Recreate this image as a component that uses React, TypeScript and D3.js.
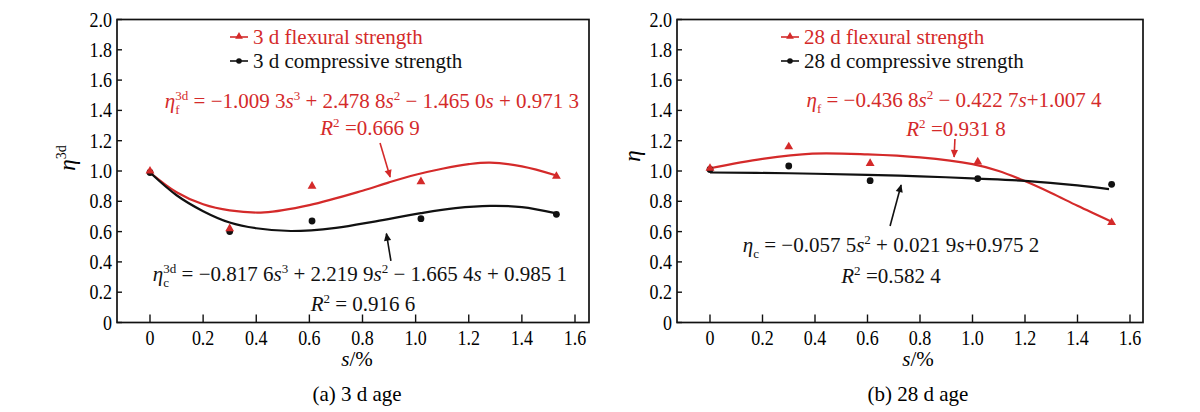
import React from 'react';
import * as d3 from 'd3';

// ---------------- data ----------------
const sLevels = [0, 0.3, 0.61, 1.02, 1.53];
const flex3d = [1.0, 0.62, 0.9, 0.93, 0.965];
const comp3d = [0.99, 0.6, 0.67, 0.685, 0.714];
const flex28d = [1.018, 1.16, 1.05, 1.06, 0.66];
const comp28d = [1.01, 1.033, 0.936, 0.95, 0.912];

// fitted trend curves
const fit3dFlexS = [0, 0.1, 0.2, 0.3, 0.43, 0.6, 0.8, 0.9, 1.0, 1.1, 1.2, 1.28, 1.4, 1.53];
const fit3dFlexEta = [0.99, 0.86, 0.78, 0.74, 0.727, 0.775, 0.87, 0.925, 0.975, 1.015, 1.045, 1.055, 1.03, 0.97];
const fit3dCompS = [0, 0.1, 0.2, 0.3, 0.4, 0.53, 0.7, 0.85, 1.02, 1.15, 1.28, 1.4, 1.53];
const fit3dCompEta = [0.99, 0.84, 0.735, 0.66, 0.622, 0.604, 0.625, 0.668, 0.722, 0.755, 0.77, 0.762, 0.72];
const fit28FlexS = [0, 0.2, 0.39, 0.6, 0.8, 1.0, 1.1, 1.19, 1.3, 1.4, 1.53];
const fit28FlexEta = [1.018, 1.08, 1.115, 1.11, 1.09, 1.045, 1.0, 0.94, 0.855, 0.77, 0.665];
const fit28CompS = [0, 0.3, 0.6, 0.8, 1.02, 1.2, 1.4, 1.52];
const fit28CompEta = [0.99, 0.985, 0.974, 0.965, 0.95, 0.935, 0.905, 0.88];

const xTicks = [0, 0.2, 0.4, 0.6, 0.8, 1.0, 1.2, 1.4, 1.6];
const xTickLabels = ['0', '0.2', '0.4', '0.6', '0.8', '1.0', '1.2', '1.4', '1.6'];
const yTicks = [0, 0.2, 0.4, 0.6, 0.8, 1.0, 1.2, 1.4, 1.6, 1.8, 2.0];
const yTickLabels = ['0', '0.2', '0.4', '0.6', '0.8', '1.0', '1.2', '1.4', '1.6', '1.8', '2.0'];

// arrows in data space: [s0, eta0, s1, eta1]
const arrows3d = { flex: [0.866, 1.185, 0.904, 0.96], comp: [0.907, 0.406, 0.89, 0.587] };
const arrows28 = { flex: [0.933, 1.211, 0.93, 1.092], comp: [0.686, 0.637, 0.728, 0.908] };

type Seg = { t?: string; i?: boolean; sup?: string; sub?: string; ss?: [string, string] };

const eq3dFlex: Seg[] = [
  { t: 'η', i: true }, { ss: ['3d', 'f'] }, { t: ' = −1.009 3' }, { t: 's', i: true }, { sup: '3' },
  { t: ' + 2.478 8' }, { t: 's', i: true }, { sup: '2' }, { t: ' − 1.465 0' }, { t: 's', i: true }, { t: ' + 0.971 3' },
];
const r2_3dFlex: Seg[] = [{ t: 'R', i: true }, { sup: '2' }, { t: ' =0.666 9' }];
const eq3dComp: Seg[] = [
  { t: 'η', i: true }, { ss: ['3d', 'c'] }, { t: ' = −0.817 6' }, { t: 's', i: true }, { sup: '3' },
  { t: ' + 2.219 9' }, { t: 's', i: true }, { sup: '2' }, { t: ' − 1.665 4' }, { t: 's', i: true }, { t: ' + 0.985 1' },
];
const r2_3dComp: Seg[] = [{ t: 'R', i: true }, { sup: '2' }, { t: ' = 0.916 6' }];
const eq28Flex: Seg[] = [
  { t: 'η', i: true }, { sub: 'f' }, { t: ' = −0.436 8' }, { t: 's', i: true }, { sup: '2' },
  { t: ' − 0.422 7' }, { t: 's', i: true }, { t: '+1.007 4' },
];
const r2_28Flex: Seg[] = [{ t: 'R', i: true }, { sup: '2' }, { t: ' =0.931 8' }];
const eq28Comp: Seg[] = [
  { t: 'η', i: true }, { sub: 'c' }, { t: ' = −0.057 5' }, { t: 's', i: true }, { sup: '2' },
  { t: ' + 0.021 9' }, { t: 's', i: true }, { t: '+0.975 2' },
];
const r2_28Comp: Seg[] = [{ t: 'R', i: true }, { sup: '2' }, { t: ' =0.582 4' }];

// ---------------- style ----------------
const RED = '#d42a2a';
const FONT = 'Liberation Serif, DejaVu Serif, serif';
const W = 1200;
const H = 412;

const charW: Record<string, number> = { f: 0.333, c: 0.444 };

function Rich({ segs, size }: { segs: Seg[]; size: number }) {
  const small = size * 0.62;
  const up = -size * 0.4;
  const down = size * 0.27;
  let cur = 0;
  const mv = (t: number) => {
    const d = t - cur;
    cur = t;
    return d;
  };
  const out: any[] = [];
  segs.forEach((s, k) => {
    if (s.t !== undefined) {
      out.push(
        <tspan key={k} dy={mv(0)} fontStyle={s.i ? 'italic' : 'normal'} fontSize={size}>
          {s.t}
        </tspan>
      );
    } else if (s.sup !== undefined) {
      out.push(<tspan key={k} dy={mv(up)} fontSize={small}>{s.sup}</tspan>);
    } else if (s.sub !== undefined) {
      out.push(<tspan key={k} dy={mv(down)} fontSize={small}>{s.sub}</tspan>);
    } else if (s.ss) {
      const wsub = s.ss[1].split('').reduce((a, c) => a + (charW[c] || 0.5), 0) * small;
      out.push(<tspan key={k + 'b'} dy={mv(down)} fontSize={small}>{s.ss[1]}</tspan>);
      out.push(<tspan key={k + 'p'} dx={-wsub} dy={mv(up)} fontSize={small}>{s.ss[0]}</tspan>);
    }
  });
  return <>{out}</>;
}

type PanelProps = {
  x0: number; x16: number; left: number; right: number;
  flex: number[]; comp: number[];
  fitFlex: [number[], number[]]; fitComp: [number[], number[]];
  arrows: { flex: number[]; comp: number[] };
  legend: [string, string]; legendX: number;
  eqFlex: Seg[]; r2Flex: Seg[]; eqComp: Seg[]; r2Comp: Seg[];
  eqPos: { fx: number; fy: number; rfx: number; rfy: number; cx: number; cy: number; rcx: number; rcy: number };
  yLabelX: number; yLabelY: number; yLabelSup: string;
  titleX: number; caption: string;
};

const top = 19.5;
const bottom = 322.5;

function Panel(p: PanelProps) {
  const x = d3.scaleLinear().domain([0, 1.6]).range([p.x0, p.x16]);
  const y = d3.scaleLinear().domain([0, 2]).range([bottom, top]);
  const line = d3
    .line<[number, number]>()
    .x((d) => x(d[0]))
    .y((d) => y(d[1]))
    .curve(d3.curveCatmullRom.alpha(0.5));
  const flexPts = p.fitFlex[0].map((s, i) => [s, p.fitFlex[1][i]] as [number, number]);
  const compPts = p.fitComp[0].map((s, i) => [s, p.fitComp[1][i]] as [number, number]);
  const tri = d3.symbol(d3.symbolTriangle, 34)();
  const triSmall = d3.symbol(d3.symbolTriangle, 26)();
  const arrow = (a: number[], color: string, id: string) => (
    <line x1={x(a[0])} y1={y(a[1])} x2={x(a[2])} y2={y(a[3])} stroke={color} strokeWidth={1.6} markerEnd={`url(#${id})`} />
  );
  return (
    <g>
      <rect x={p.left} y={top} width={p.right - p.left} height={bottom - top} fill="none" stroke="#111" strokeWidth={1.7} />
      {xTicks.map((t, i) => (
        <g key={'xt' + i}>
          <line x1={x(t)} x2={x(t)} y1={bottom} y2={bottom - 8} stroke="#111" strokeWidth={1.4} />
          <text transform={`translate(${x(t)},345) scale(0.9,1)`} textAnchor="middle" fontSize={20}>
            {xTickLabels[i]}
          </text>
        </g>
      ))}
      {yTicks.map((t, i) => (
        <g key={'yt' + i}>
          <line x1={p.left} x2={p.left + 5} y1={y(t)} y2={y(t)} stroke="#111" strokeWidth={1.4} />
          <text transform={`translate(${p.left - 5},${y(t) + 7}) scale(0.9,1)`} textAnchor="end" fontSize={20}>
            {yTickLabels[i]}
          </text>
        </g>
      ))}
      <path d={line(flexPts) || ''} fill="none" stroke={RED} strokeWidth={2.2} />
      <path d={line(compPts) || ''} fill="none" stroke="#111" strokeWidth={2.2} />
      {sLevels.map((s, i) => (
        <circle key={'c' + i} cx={x(s)} cy={y(p.comp[i])} r={3.4} fill="#111" />
      ))}
      {sLevels.map((s, i) => (
        <path key={'t' + i} d={tri || ''} transform={`translate(${x(s)},${y(p.flex[i])})`} fill={RED} />
      ))}
      {arrow(p.arrows.flex, RED, 'arrRed')}
      {arrow(p.arrows.comp, '#111', 'arrBlack')}
      <line x1={p.legendX} x2={p.legendX + 18} y1={37} y2={37} stroke={RED} strokeWidth={1.6} />
      <path d={triSmall || ''} transform={`translate(${p.legendX + 9},36.5)`} fill={RED} />
      <text x={p.legendX + 23} y={44} fontSize={21} fill={RED}>{p.legend[0]}</text>
      <line x1={p.legendX} x2={p.legendX + 18} y1={61} y2={61} stroke="#111" strokeWidth={1.6} />
      <circle cx={p.legendX + 9} cy={61} r={2.8} fill="#111" />
      <text x={p.legendX + 23} y={68} fontSize={21} fill="#111">{p.legend[1]}</text>
      <text x={p.eqPos.fx} y={p.eqPos.fy} textAnchor="middle" fill={RED}><Rich segs={p.eqFlex} size={21} /></text>
      <text x={p.eqPos.rfx} y={p.eqPos.rfy} textAnchor="middle" fill={RED}><Rich segs={p.r2Flex} size={21} /></text>
      <text x={p.eqPos.cx} y={p.eqPos.cy} textAnchor="middle" fill="#111"><Rich segs={p.eqComp} size={21} /></text>
      <text x={p.eqPos.rcx} y={p.eqPos.rcy} textAnchor="middle" fill="#111"><Rich segs={p.r2Comp} size={21} /></text>
      <text transform={`translate(${p.yLabelX},${p.yLabelY}) rotate(-90)`} textAnchor="middle" fontSize={23}>
        <tspan fontStyle="italic">η</tspan>
        {p.yLabelSup ? <tspan dy={-9} fontSize={14}>{p.yLabelSup}</tspan> : null}
      </text>
      <text x={p.titleX} y={366} textAnchor="middle" fontSize={21}>
        <tspan fontStyle="italic">s</tspan>/%
      </text>
      <text x={p.titleX} y={401} textAnchor="middle" fontSize={21}>{p.caption}</text>
    </g>
  );
}

export default function App() {
  return (
    <svg
      width={W}
      height={H}
      viewBox={`0 0 ${W} ${H}`}
      fontFamily={FONT}
      style={{ position: 'absolute', left: 0, top: 0, background: '#fff', whiteSpace: 'pre' }}
    >
      <defs>
        <marker id="arrRed" viewBox="0 0 10 10" refX={9} refY={5} markerWidth={9} markerHeight={8} markerUnits="userSpaceOnUse" orient="auto">
          <path d="M0,0.5 L10,5 L0,9.5 z" fill={RED} />
        </marker>
        <marker id="arrBlack" viewBox="0 0 10 10" refX={9} refY={5} markerWidth={9} markerHeight={8} markerUnits="userSpaceOnUse" orient="auto">
          <path d="M0,0.5 L10,5 L0,9.5 z" fill="#111" />
        </marker>
      </defs>
      <Panel
        x0={150} x16={575} left={117} right={589}
        flex={flex3d} comp={comp3d}
        fitFlex={[fit3dFlexS, fit3dFlexEta]} fitComp={[fit3dCompS, fit3dCompEta]}
        arrows={arrows3d}
        legend={['3 d flexural strength', '3 d compressive strength']} legendX={230}
        eqFlex={eq3dFlex} r2Flex={r2_3dFlex} eqComp={eq3dComp} r2Comp={r2_3dComp}
        eqPos={{ fx: 372, fy: 108, rfx: 370, rfy: 135, cx: 360, cy: 281, rcx: 363, rcy: 311 }}
        yLabelX={75} yLabelY={158} yLabelSup="3d"
        titleX={357} caption="(a) 3 d age"
      />
      <Panel
        x0={710} x16={1130} left={677} right={1143}
        flex={flex28d} comp={comp28d}
        fitFlex={[fit28FlexS, fit28FlexEta]} fitComp={[fit28CompS, fit28CompEta]}
        arrows={arrows28}
        legend={['28 d flexural strength', '28 d compressive strength']} legendX={781}
        eqFlex={eq28Flex} r2Flex={r2_28Flex} eqComp={eq28Comp} r2Comp={r2_28Comp}
        eqPos={{ fx: 954, fy: 107, rfx: 956, rfy: 136, cx: 891, cy: 252, rcx: 891, rcy: 283 }}
        yLabelX={640} yLabelY={156} yLabelSup=""
        titleX={918} caption="(b) 28 d age"
      />
    </svg>
  );
}
